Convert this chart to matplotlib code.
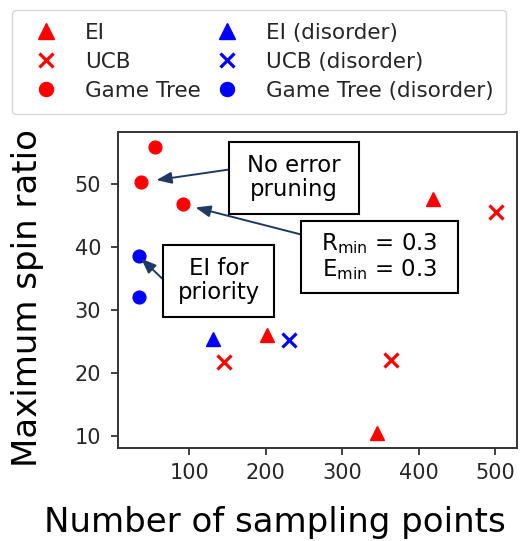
import matplotlib
matplotlib.use("Agg")
import matplotlib.pyplot as plt
from matplotlib.patches import Rectangle

# ---- data ----
ei_x = [201.5, 345.3, 418.5]
ei_y = [26.1, 10.5, 47.6]
ucb_x = [144.9, 363.6, 501.3]
ucb_y = [21.7, 22.0, 45.5]
gt_x = [37.3, 55.6, 92.2]
gt_y = [50.2, 55.8, 46.7]
eid_x = [131.0]
eid_y = [25.4]
ucbd_x = [229.8]
ucbd_y = [25.2]
gtd_x = [33.7, 33.7]
gtd_y = [38.5, 32.1]

xticks = [100, 200, 300, 400, 500]
yticks = [10, 20, 30, 40, 50]

plt.rcParams['font.family'] = ['DejaVu Sans']
dark = '0.2'

fig = plt.figure(figsize=(5.21, 5.41), dpi=100)
ax = fig.add_axes([117.7/521, 1-447.7/541, (516.5-117.7)/521, (447.7-131.7)/541])

red, blue = '#ff0000', '#0000ff'
tri = dict(marker='^', ms=10, ls='none', zorder=3)
crs = dict(marker='x', ms=9.5, mew=2.3, ls='none', zorder=3)
cir = dict(marker='o', ms=9.2, ls='none', zorder=3)
ax.plot(ei_x, ei_y, color=red, label='EI', **tri)
ax.plot(ucb_x, ucb_y, color=red, label='UCB', **crs)
ax.plot(gt_x, gt_y, color=red, label='Game Tree', **cir)
ax.plot(eid_x, eid_y, color=blue, label='EI (disorder)', **tri)
ax.plot(ucbd_x, ucbd_y, color=blue, label='UCB (disorder)', **crs)
ax.plot(gtd_x, gtd_y, color=blue, label='Game Tree (disorder)', **cir)

ax.set_xlim(6.4, 527.5)
ax.set_ylim(8.2, 58.2)
ax.set_xticks(xticks)
ax.set_yticks(yticks)
for sp in ax.spines.values():
    sp.set_color(dark)
    sp.set_linewidth(1.4)
ax.tick_params(axis='both', direction='out', length=5.3, width=1.3, color=dark,
               labelcolor='0.15', labelsize=15, pad=6)
ax.tick_params(axis='y', pad=6.5)

ax.set_xlabel('Number of sampling points', fontsize=24.5, color='black')
ax.xaxis.set_label_coords((275 - 117.7) / 398.8, -0.185)
ax.set_ylabel('Maximum spin ratio', fontsize=24.5, color='black')
ax.yaxis.set_label_coords(-0.185, 0.475)

# legend
leg = ax.legend(loc='upper left', bbox_to_anchor=(12/521, 1-10/541),
                bbox_transform=fig.transFigure, ncol=2, fontsize=15.5,
                columnspacing=0.2, frameon=True, fancybox=True, framealpha=0.8,
                edgecolor='0.8', numpoints=1, borderaxespad=0, borderpad=0.6,
                labelspacing=0.42, markerscale=1.1)
for t in leg.get_texts():
    t.set_color('0.15')

# annotations (boxes + arrows)
navy = '#1f3864'
arrow_kw = dict(arrowstyle='-|>,head_width=0.35,head_length=0.9', color=navy, lw=1.4)

def box(cx, cy, w, h, text, fs=16.4):
    ax.add_patch(Rectangle((cx - w/2, cy - h/2), w, h, facecolor='white',
                           edgecolor='black', lw=1.5, zorder=4))
    ax.text(cx, cy, text, ha='center', va='center', fontsize=fs, zorder=5,
            linespacing=1.05, color='black')

# arrows: tail -> data point
ax.annotate('', xy=(gt_x[0], gt_y[0]), xytext=(151.0, 52.2),
            arrowprops=dict(**arrow_kw, shrinkA=0, shrinkB=11), zorder=4)
ax.annotate('', xy=(gt_x[2], gt_y[2]), xytext=(247.1, 41.9),
            arrowprops=dict(**arrow_kw, shrinkA=0, shrinkB=9), zorder=4)
ax.annotate('', xy=(gtd_x[0], gtd_y[0]), xytext=(66.0, 34.8),
            arrowprops=dict(**arrow_kw, shrinkA=0, shrinkB=2.5), zorder=4)

box(237.0, 50.9, 130/0.7643, 71.6/6.317, 'No error\npruning')
box(348.2, 38.4, 156.6/0.7643, 71.6/6.317,
    r'R$_\mathregular{min}$ = 0.3' + '\n' + r'E$_\mathregular{min}$ = 0.3')
box(138.6, 34.6, 111/0.7643, 71.7/6.317, 'EI for\npriority')

fig.savefig('out.png', dpi=100)
